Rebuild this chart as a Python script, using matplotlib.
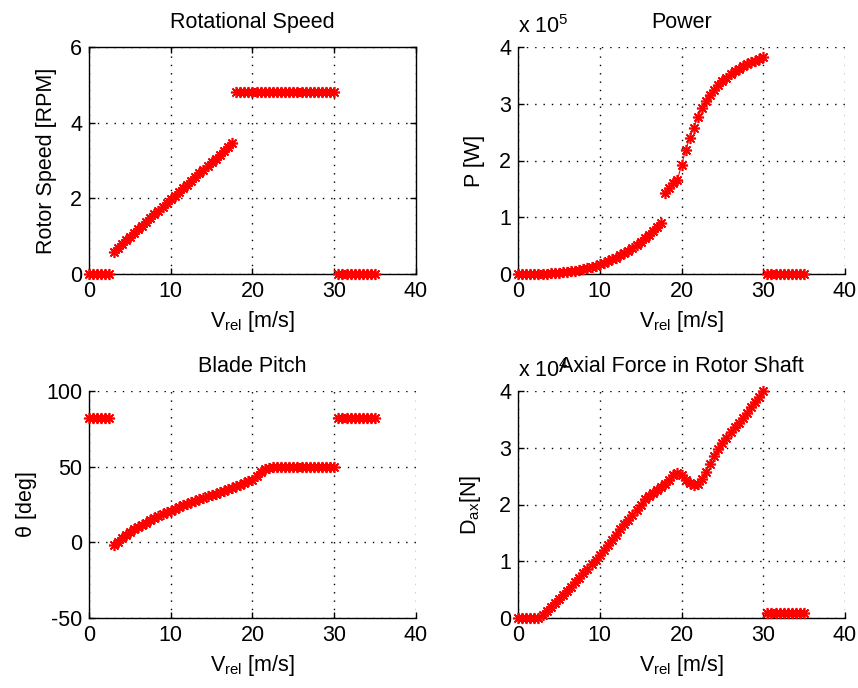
import numpy as np
import matplotlib
matplotlib.use("Agg")
import matplotlib.pyplot as plt

plt.rcParams["font.family"] = ["Liberation Sans", "DejaVu Sans"]
plt.rcParams["mathtext.fontset"] = "custom"
plt.rcParams["mathtext.rm"] = "Liberation Sans"
plt.rcParams["mathtext.it"] = "Liberation Sans:italic"
plt.rcParams["mathtext.bf"] = "Liberation Sans:bold"
plt.rcParams["axes.unicode_minus"] = False

# Relative wind speed [m/s]
V = [0, 0.5, 1, 1.5, 2, 2.5, 3, 3.5, 4, 4.5, 5, 5.5, 6, 6.5, 7, 7.5, 8, 8.5,
     9, 9.5, 10, 10.5, 11, 11.5, 12, 12.5, 13, 13.5, 14, 14.5, 15, 15.5, 16,
     16.5, 17, 17.5, 18, 18.5, 19, 19.5, 20, 20.5, 21, 21.5, 22, 22.5, 23,
     23.5, 24, 24.5, 25, 25.5, 26, 26.5, 27, 27.5, 28, 28.5, 29, 29.5, 30,
     30.5, 31, 31.5, 32, 32.5, 33, 33.5, 34, 34.5, 35]

# Rotor speed [RPM]
rotor_speed = [0, 0, 0, 0, 0, 0,
               0.59, 0.69, 0.79, 0.89, 0.99, 1.08, 1.18, 1.28, 1.38, 1.48,
               1.58, 1.67, 1.77, 1.87, 1.97, 2.07, 2.17, 2.27, 2.36, 2.46,
               2.56, 2.66, 2.76, 2.86, 2.96, 3.05, 3.15, 3.25, 3.35, 3.45,
               4.82, 4.82, 4.82, 4.82, 4.82, 4.82, 4.82, 4.82, 4.82, 4.82,
               4.82, 4.82, 4.82, 4.82, 4.82, 4.82, 4.82, 4.82, 4.82, 4.82,
               4.82, 4.82, 4.82, 4.82, 4.82,
               0, 0, 0, 0, 0, 0, 0, 0, 0, 0]

# Power [x 1e5 W]
power = [0, 0, 0, 0, 0, 0,
         0.005, 0.007, 0.011, 0.015, 0.021, 0.028, 0.036, 0.046, 0.058, 0.071,
         0.086, 0.103, 0.122, 0.144, 0.168, 0.194, 0.224, 0.256, 0.290, 0.328,
         0.369, 0.413, 0.461, 0.512, 0.567, 0.626, 0.688, 0.755, 0.825, 0.900,
         1.42, 1.52, 1.60, 1.66, 1.92, 2.18, 2.40, 2.58, 2.76, 2.92,
         3.04, 3.15, 3.25, 3.33, 3.40, 3.46, 3.52, 3.57, 3.62, 3.66,
         3.70, 3.73, 3.76, 3.79, 3.82,
         0, 0, 0, 0, 0, 0, 0, 0, 0, 0]

# Blade pitch [deg]
pitch = [82, 82, 82, 82, 82, 82,
         -2, 0.5, 3, 5, 7, 8.5, 10, 11.5, 13, 14.5,
         16, 17.2, 18.5, 19.8, 21, 22.2, 23.3, 24.4, 25.5, 26.5,
         27.5, 28.5, 29.4, 30.3, 31.2, 32.2, 33.2, 34.2, 35.2, 36.2,
         37.2, 38.2, 39.2, 40.3, 41.5, 44, 46.5, 48.3, 49.3, 49.8,
         50, 50, 50, 50, 50, 50, 50, 50, 50, 50,
         50, 50, 50, 50, 50,
         82, 82, 82, 82, 82, 82, 82, 82, 82, 82]

# Axial force in rotor shaft [x 1e4 N]
axial_force = [0, 0, 0, 0, 0, 0,
               0.06, 0.12, 0.19, 0.26, 0.33, 0.40, 0.47, 0.55, 0.63, 0.71,
               0.79, 0.87, 0.95, 1.03, 1.11, 1.20, 1.29, 1.38, 1.47, 1.56,
               1.65, 1.73, 1.81, 1.90, 1.99, 2.10, 2.15, 2.20, 2.25, 2.30,
               2.36, 2.44, 2.52, 2.56, 2.52, 2.44, 2.38, 2.35, 2.36, 2.45,
               2.58, 2.72, 2.85, 2.97, 3.08, 3.18, 3.27, 3.36, 3.44, 3.53,
               3.62, 3.71, 3.80, 3.90, 4.00,
               0.08, 0.08, 0.08, 0.08, 0.08, 0.08, 0.08, 0.08, 0.08, 0.08]

# Operating regimes: parked, variable speed, rated, cut-out
regime_edges = [2.75, 17.75, 30.25]

FS = 15.5
RED = "#ff0000"
W, H = 858, 688

fig = plt.figure(figsize=(W / 100, H / 100), dpi=100)
fig.patch.set_facecolor("white")


def make_axes(px_left, px_top, px_right, px_bottom):
    return fig.add_axes([px_left / W, 1 - px_bottom / H,
                         (px_right - px_left) / W, (px_bottom - px_top) / H])


def draw(ax, y, title, ylabel, ylim, yticks, box, scale=None, ylabel_x=-0.11):
    x = np.asarray(V, dtype=float)
    y = np.asarray(y, dtype=float)
    seg = np.digitize(x, regime_edges)
    for s in np.unique(seg):
        m = seg == s
        ax.plot(x[m], y[m], color=RED, lw=0.8, marker=(8, 2, 0), ms=8,
                mew=1.2, mec=RED, clip_on=False, zorder=3)
    ax.set_xlim(0, 40)
    ax.set_ylim(*ylim)
    ax.set_xticks([0, 10, 20, 30, 40])
    ax.set_yticks(yticks)
    ax.grid(True, color="black", linestyle=(0, (1, 5)), linewidth=1.0)
    ax.set_axisbelow(True)
    for sp in ax.spines.values():
        sp.set_linewidth(1.0)
        sp.set_color("black")
    if box:
        ax.tick_params(direction="in", length=4, width=1, top=True, right=True,
                       labelsize=FS, pad=5)
    else:
        ax.spines["top"].set_visible(False)
        ax.spines["right"].set_visible(False)
        ax.tick_params(direction="in", length=4, width=1, labelsize=FS, pad=5)
    ax.set_title(title, fontsize=FS, pad=13.5)
    ax.set_xlabel(r"V$_{\rm rel}$ [m/s]", fontsize=FS)
    ax.xaxis.set_label_coords(0.5, -0.155)
    ax.set_ylabel(ylabel, fontsize=FS)
    ax.yaxis.set_label_coords(ylabel_x, 0.5)
    if scale is not None:
        ax.text(0.0, 1.06, r"x 10$^{%d}$" % scale, transform=ax.transAxes,
                fontsize=FS, ha="left", va="baseline")


ax1 = make_axes(89, 47, 416, 274)
draw(ax1, rotor_speed, "Rotational Speed", "Rotor Speed [RPM]", (0, 6),
     [0, 2, 4, 6], box=True, ylabel_x=-0.098)

ax2 = make_axes(518, 47, 845, 274)
draw(ax2, power, "Power", "P [W]", (0, 4), [0, 1, 2, 3, 4], box=False,
     scale=5, ylabel_x=-0.101)

ax3 = make_axes(89, 391, 416, 618)
draw(ax3, pitch, "Blade Pitch", "θ [deg]", (-50, 100), [-50, 0, 50, 100],
     box=False, ylabel_x=-0.158)

ax4 = make_axes(518, 391, 845, 618)
draw(ax4, axial_force, "Axial Force in Rotor Shaft", r"D$_{\rm ax}$[N]", (0, 4),
     [0, 1, 2, 3, 4], box=False, scale=4, ylabel_x=-0.107)

fig.savefig("out.png", dpi=100, facecolor="white")
